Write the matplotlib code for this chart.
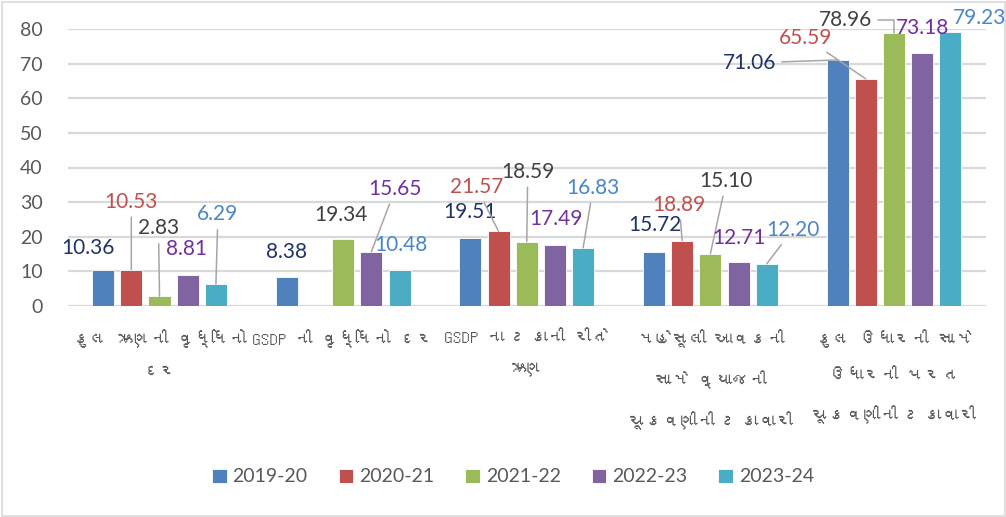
import numpy as np
import matplotlib
matplotlib.use("Agg")
import matplotlib.pyplot as plt
import matplotlib.font_manager as fm
from matplotlib.ft2font import FT2Font
from matplotlib.patches import Rectangle

# ---------------- data ----------------
categories = [
    "કુલ ઋણની વૃધ્ધિનો\nદર",
    "GSDP ની વૃધ્ધિનો દર",
    "GSDP ના ટકાની રીતે\nઋણ",
    "મહેસૂલી આવકની\nસામે વ્યાજની\nચૂકવણીની ટકાવારી",
    "કુલ ઉધારની સામે\nઉધારની પરત\nચૂકવણીની ટકાવારી",
]
series_names = ["2019-20", "2020-21", "2021-22", "2022-23", "2023-24"]
s2019_20 = [10.36, 8.38, 19.51, 15.72, 71.06]
s2020_21 = [10.53, np.nan, 21.57, 18.89, 65.59]
s2021_22 = [2.83, 19.34, 18.59, 15.10, 78.96]
s2022_23 = [8.81, 15.65, 17.49, 12.71, 73.18]
s2023_24 = [6.29, 10.48, 16.83, 12.20, 79.23]
series_values = [s2019_20, s2020_21, s2021_22, s2022_23, s2023_24]
y_ticks = [0, 10, 20, 30, 40, 50, 60, 70, 80]

# ---------------- style ----------------
bar_colors = ["#4f81bd", "#c0504d", "#9bbb59", "#8064a2", "#4bacc6"]
label_colors = ["#1f3468", "#c0504d", "#404040", "#7030a0", "#4a86c8"]
text_gray = "#595959"
grid_gray = "#d9d9d9"
leader_gray = "#a6a6a6"

# label offsets (pixels, from bar top centre) and leader flags [series][category]
label_offsets = [
    [(-15, 22), (0, 25), (0, 26), (1, 27), (-88, -3)],
    [(0, 68), None, (-22, 44), (-3, 36), (-60, 41)],
    [(-1, 68), (-2, 24), (1, 70), (16, 73), (-48, 13)],
    [(-1, 26), (24, 63), (1, 26), (0, 24), (0, 25)],
    [(2, 70), (1, 25), (10, 60), (26, 34), (29, 14)],
]
leaders = [
    [False, False, False, False, True],
    [True, False, True, True, True],
    [True, False, True, True, True],
    [False, True, False, False, False],
    [True, False, True, True, False],
]


def find_font(ch):
    for f in fm.fontManager.ttflist:
        try:
            ft = FT2Font(f.fname)
            if ft.get_char_index(ord(ch)):
                return f.name
        except Exception:
            pass
    return None


guj = find_font("ક")
cat_family = ([guj] if guj else []) + ["DejaVu Sans"]
num_family = ["Lato", "DejaVu Sans"]

plt.rcParams["font.family"] = num_family

W, H = 1006, 517
fig = plt.figure(figsize=(W / 100, H / 100), dpi=100)
ax = fig.add_axes([67.7 / W, 1 - 306 / H, (985.8 - 67.7) / W, (306 - 29) / H])

n_cat = len(categories)
x = np.arange(n_cat)
pitch = 0.1536
width = 0.12

containers = []
for j, (name, vals) in enumerate(zip(series_names, series_values)):
    c = ax.bar(x + (j - 2) * pitch, vals, width=width, color=bar_colors[j],
               label=name, zorder=3, edgecolor="white", linewidth=0.6)
    containers.append(c)

for j, c in enumerate(containers):
    for i, rect in enumerate(c):
        v = series_values[j][i]
        if v is None or np.isnan(v):
            continue
        off = label_offsets[j][i]
        cx = rect.get_x() + rect.get_width() / 2
        ap = None
        if leaders[j][i]:
            cs = "arc3"
            if j == 2 and i == 4:
                cs = "angle,angleA=0,angleB=90,rad=0"
            ap = dict(arrowstyle="-", color=leader_gray, lw=1.1,
                      shrinkA=2, shrinkB=0, connectionstyle=cs)
        ax.annotate(f"{v:.2f}", xy=(cx, rect.get_height()), xytext=off,
                    textcoords="offset pixels", ha="center", va="center",
                    fontsize=15, color=label_colors[j], arrowprops=ap,
                    annotation_clip=False, zorder=5)

ax.set_ylim(0, 80)
ax.set_xlim(-0.5, n_cat - 0.5)
ax.set_yticks(y_ticks)
ax.set_yticklabels([str(t) for t in y_ticks], fontsize=14, color=text_gray)
ax.yaxis.grid(True, color=grid_gray, linewidth=1.6, zorder=0)
ax.set_axisbelow(True)
for s in ax.spines.values():
    s.set_visible(False)
ax.tick_params(axis="both", length=0)
ax.tick_params(axis="y", pad=18)
ax.set_xticks(x)
ax.set_xticklabels(categories, fontsize=12.5, color=text_gray,
                   family=cat_family, linespacing=2.4)
ax.tick_params(axis="x", pad=17)

leg = fig.legend(handles=containers, labels=series_names, loc="center",
                 bbox_to_anchor=(513 / W, 1 - 477 / H), ncol=5, frameon=False,
                 fontsize=14, handlelength=0.75, handleheight=0.75,
                 handletextpad=0.3, columnspacing=1.6)
for t in leg.get_texts():
    t.set_color(text_gray)

fig.patches.append(Rectangle((1.5 / W, 1.5 / H), (W - 3) / W, (H - 3) / H,
                             transform=fig.transFigure, fill=False,
                             edgecolor=grid_gray, linewidth=1.2))

fig.savefig("out.png", dpi=100, facecolor="white")
